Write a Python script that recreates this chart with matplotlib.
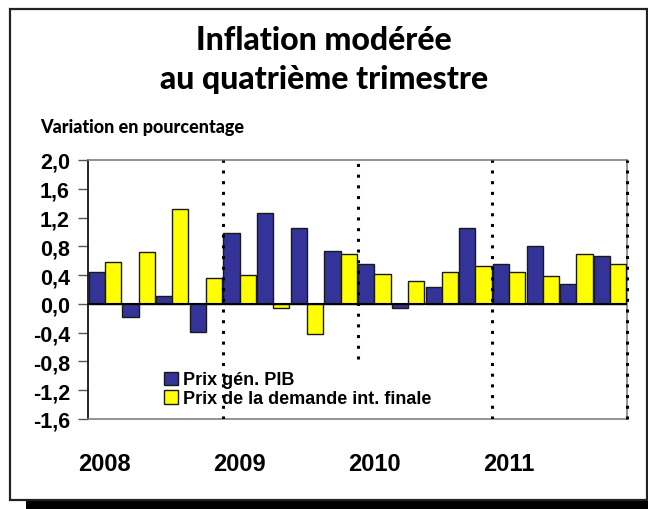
import matplotlib
matplotlib.use('Agg')
import matplotlib.pyplot as plt
from matplotlib.patches import Rectangle
from matplotlib.ticker import FixedLocator

# quarterly % change, 2008 Q1 .. 2011 Q4
years = ['2008', '2009', '2010', '2011']
gdp_prices = [0.45, -0.18, 0.11, -0.39,
              0.99, 1.26, 1.05, 0.74,
              0.55, -0.06, 0.23, 1.05,
              0.55, 0.80, 0.27, 0.66]
demand_prices = [0.58, 0.72, 1.32, 0.36,
                 0.40, -0.06, -0.42, 0.70,
                 0.41, 0.32, 0.45, 0.52,
                 0.44, 0.39, 0.69, 0.55]
y_ticks = [2.0, 1.6, 1.2, 0.8, 0.4, 0.0, -0.4, -0.8, -1.2, -1.6]
labels = ['Prix gén. PIB', 'Prix de la demande int. finale']

blue = '#333399'
yellow = '#ffff00'

fig = plt.figure(figsize=(6.48, 5.1), dpi=100)

# outer frame with shadow
fig.patches.append(Rectangle((26 / 648, 0), 1, 8 / 510, transform=fig.transFigure,
                             facecolor='black', edgecolor='none'))
fig.patches.append(Rectangle((10 / 648, 9 / 510), 637 / 648, 491 / 510,
                             transform=fig.transFigure, facecolor='none',
                             edgecolor='#222222', linewidth=1.6))

ax = fig.add_axes([88 / 648, 1 - 420 / 510, 539 / 648, 259 / 510])

x = range(len(gdp_prices))
ax.bar([i + 0.02 for i in x], gdp_prices, width=0.48, align='edge',
       color=blue, edgecolor='#1a1a1a', linewidth=1.0, label=labels[0], zorder=3)
ax.bar([i + 0.5 for i in x], demand_prices, width=0.48, align='edge',
       color=yellow, edgecolor='#1a1a1a', linewidth=1.0, label=labels[1], zorder=3)

ax.axhline(0, color='black', linewidth=1.5, zorder=4)

# year separators
dots = dict(color='black', linestyle=(0, (1, 2.5)), linewidth=2.2, zorder=5)
ax.plot([4, 4], [-1.6, 2.0], **dots)
ax.plot([8, 8], [-0.76, 2.0], **dots)
ax.plot([12, 12], [-1.6, 2.0], **dots)
ax.plot([16, 16], [-1.6, 2.0], clip_on=False, **dots)

ax.set_xlim(0, 16)
ax.set_ylim(-1.6, 2.0)

ax.yaxis.set_major_locator(FixedLocator(y_ticks))
ax.set_yticklabels([('%.1f' % v).replace('.', ',') for v in y_ticks],
                   fontsize=15.5, fontweight='bold', family='Liberation Sans')
ax.tick_params(axis='y', direction='out', length=7, width=1, color='#555555', pad=6)

ax.set_xticks([0.5, 4.5, 8.5, 12.5])
ax.set_xticklabels(years, fontsize=17, fontweight='bold', family='Liberation Sans')
ax.tick_params(axis='x', length=0, pad=24)

ax.spines['left'].set_color('black')
ax.spines['left'].set_linewidth(1.2)
for s in ['top', 'right', 'bottom']:
    ax.spines[s].set_color('#808080')
    ax.spines[s].set_linewidth(1.2)

leg = ax.legend(loc='lower left', bbox_to_anchor=(0.12, 0.0), frameon=False,
                prop={'family': 'Liberation Sans', 'weight': 'bold', 'size': 13},
                handlelength=0.75, handleheight=0.75, handletextpad=0.3,
                labelspacing=0.1, borderaxespad=0.25)

fig.text(0.5, 1 - 41 / 510, 'Inflation modérée', ha='center', va='center',
         fontsize=23, fontweight='black', family='Lato')
fig.text(0.5, 1 - 79 / 510, 'au quatrième trimestre', ha='center', va='center',
         fontsize=23, fontweight='black', family='Lato')
fig.text(40 / 648, 1 - 128 / 510, 'Variation en pourcentage', ha='left', va='center',
         fontsize=13, fontweight='black', family='Lato')

fig.savefig('out.png', dpi=100)
